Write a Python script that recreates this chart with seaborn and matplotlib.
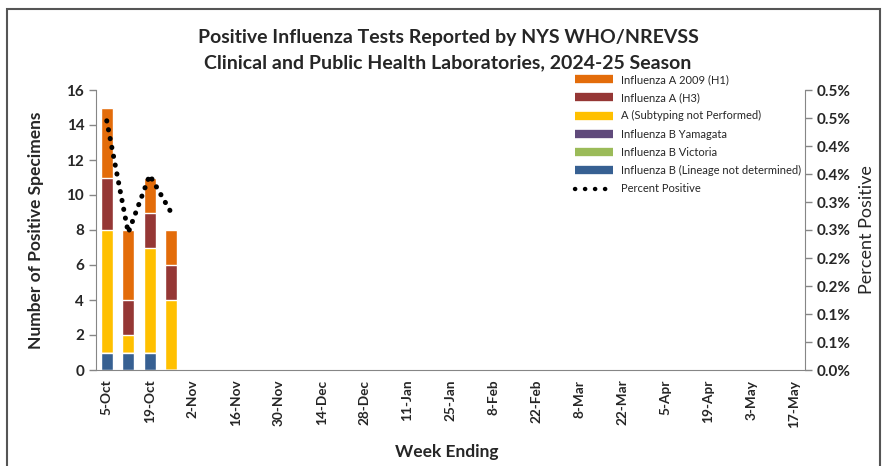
import numpy as np
import pandas as pd
import matplotlib
matplotlib.use("Agg")
import matplotlib.pyplot as plt
from matplotlib.lines import Line2D
from matplotlib.patches import Rectangle
import seaborn as sns

# 주차 (week ending)
weeks = ["5-Oct", "12-Oct", "19-Oct", "26-Oct", "2-Nov", "9-Nov", "16-Nov", "23-Nov",
         "30-Nov", "7-Dec", "14-Dec", "21-Dec", "28-Dec", "4-Jan", "11-Jan", "18-Jan",
         "25-Jan", "1-Feb", "8-Feb", "15-Feb", "22-Feb", "1-Mar", "8-Mar", "15-Mar",
         "22-Mar", "29-Mar", "5-Apr", "12-Apr", "19-Apr", "26-Apr", "3-May", "10-May", "17-May"]

# 양성 검체 수 (첫 4주만 데이터 있음)
b_lineage = [1, 1, 1, 0]
b_victoria = [0, 0, 0, 0]
b_yamagata = [0, 0, 0, 0]
a_unsub = [7, 1, 6, 4]
a_h3 = [3, 2, 2, 2]
a_h1 = [4, 4, 2, 2]
pct_positive = [0.445, 0.245, 0.348, 0.281]

series_names = ["Influenza B (Lineage not determined)", "Influenza B Victoria",
                "Influenza B Yamagata", "A (Subtyping not Performed)",
                "Influenza A (H3)", "Influenza A 2009 (H1)"]
series_vals = [b_lineage, b_victoria, b_yamagata, a_unsub, a_h3, a_h1]
colors = ["#376092", "#9BBB59", "#604A7B", "#FFC000", "#953735", "#E36C0A"]

right_ticks = [0.0, 0.05, 0.1, 0.15, 0.2, 0.25, 0.3, 0.35, 0.4, 0.45, 0.5]
right_labels = ["0.0%", "0.1%", "0.1%", "0.2%", "0.2%", "0.3%", "0.3%", "0.4%", "0.4%", "0.5%", "0.5%"]

sns.set_style("white")
plt.rcParams['font.family'] = ['Lato', 'DejaVu Sans']

n = len(weeks)
df = pd.DataFrame({"week": weeks})
cum = np.zeros(n)
cums = []
for v in series_vals:
    full = np.zeros(n)
    full[:len(v)] = v
    cum = cum + full
    cums.append(cum.copy())

fig = plt.figure(figsize=(8.83, 4.66), dpi=100)
fig.patches.append(Rectangle((7/883, -0.1), 873/883, 1 - 9/466 + 0.1, transform=fig.transFigure,
                             fill=False, edgecolor="#555555", lw=1.5))
ax = fig.add_axes([96/883, 1 - 370/466, 709/883, 280/466])

# 누적 막대: 큰 값부터 그려서 겹쳐 보이게
for i in range(len(series_vals) - 1, -1, -1):
    df["v"] = cums[i]
    sns.barplot(data=df, x="week", y="v", color=colors[i], width=0.57,
                saturation=1, ax=ax, order=weeks)

ax.set_xlim(-0.5, n - 0.5)
ax.set_ylim(0, 16)
ax.set_yticks(range(0, 17, 2))
ax.set_yticklabels([str(t) for t in range(0, 17, 2)], fontsize=11, fontweight="bold")
ax.set_xticks(range(0, n, 2))
ax.set_xticklabels(weeks[::2], rotation=90, fontsize=9.8, fontweight="bold")
ax.set_xticks(np.arange(-0.5, n, 1), minor=True)
ax.tick_params(axis="x", which="major", length=0, pad=7)
ax.tick_params(axis="x", which="minor", length=5, color="#868686", width=1, direction="out")
ax.tick_params(axis="y", length=5, color="#868686", width=1, direction="out", left=True)
for s in ["top", "right"]:
    ax.spines[s].set_visible(False)
for s in ["left", "bottom"]:
    ax.spines[s].set_color("#868686")
ax.set_xlabel("")
ax.set_ylabel("Number of Positive Specimens", fontsize=12.5, fontweight="bold", labelpad=16)

ax2 = ax.twinx()
sns.lineplot(x=np.arange(len(pct_positive)), y=pct_positive, ax=ax2, color="black",
             lw=3.6, linestyle=(0, (0.05, 1.75)), dash_capstyle="round")
ax2.set_ylim(0, 0.5)
ax2.set_yticks(right_ticks)
ax2.set_yticklabels(right_labels, fontsize=11, fontweight="bold")
ax2.tick_params(axis="y", length=5, color="#868686", width=1, direction="out", right=True)
for s in ["top", "left", "bottom"]:
    ax2.spines[s].set_visible(False)
ax2.spines["right"].set_color("#868686")
ax2.set_ylabel("Percent Positive", fontsize=13, labelpad=6)

handles = [Line2D([], [], color=colors[i], lw=6, solid_capstyle="butt")
           for i in range(len(series_vals) - 1, -1, -1)]
labels = [series_names[i] for i in range(len(series_vals) - 1, -1, -1)]
handles.append(Line2D([], [], color="black", lw=3.2, linestyle=(0, (0.05, 2.2)), dash_capstyle="round"))
labels.append("Percent Positive")
ax2.legend(handles, labels, loc="upper left", bbox_to_anchor=(575/883, 1 - 74/466),
           bbox_transform=fig.transFigure, frameon=False, fontsize=8, handlelength=3.4,
           labelspacing=0.65, handletextpad=0.7, borderaxespad=0, borderpad=0)

fig.text(448/883, 1 - 37/466, "Positive Influenza Tests Reported by NYS WHO/NREVSS",
         ha="center", va="center", fontsize=14, fontweight="bold")
fig.text(448/883, 1 - 63/466, "Clinical and Public Health Laboratories, 2024-25 Season",
         ha="center", va="center", fontsize=14, fontweight="bold")
fig.text(447/883, 1 - 452/466, "Week Ending", ha="center", va="center",
         fontsize=12.5, fontweight="bold")

fig.savefig("out.png", dpi=100)
